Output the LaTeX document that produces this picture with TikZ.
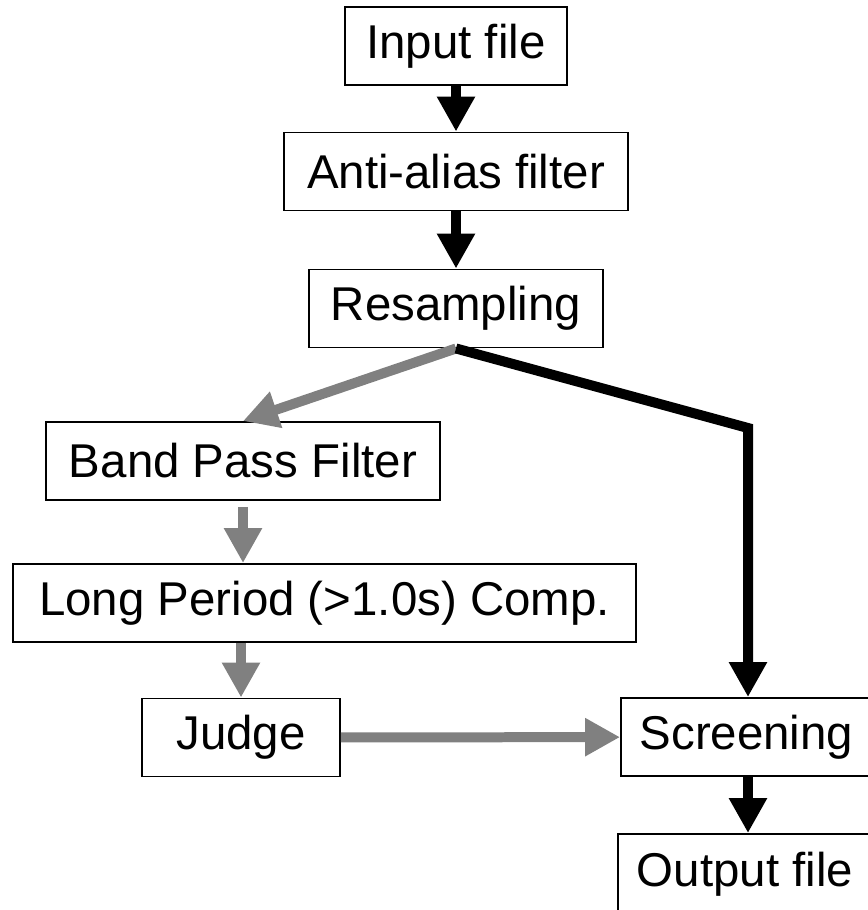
\documentclass[tikz,border=0pt]{standalone}
\usepackage{fontspec}
\setmainfont{Liberation Sans}
\usetikzlibrary{arrows.meta}
\definecolor{flowgray}{RGB}{128,128,128}

\begin{document}
\begin{tikzpicture}[x=0.02cm, y=-0.02cm,
    box/.style={draw, line width=1.1pt, inner sep=0pt, minimum height=1.56cm,
      font=\fontsize{27}{30}\selectfont},
    flow/.style={line width=0.2cm, line join=miter,
      -{Triangle[width=0.72cm,length=0.7cm]}}]
        \clip (0,0) rectangle (868,910);
        % boxes
        \node[box, minimum width=4.44cm] (in) at (456,46) {Input file};
        \node[box, minimum width=6.88cm] (aa) at (456,171.5) {Anti-alias filter};
        \node[box, minimum width=5.88cm] (rs) at (456,308.5) {Resampling};
        \node[box, minimum width=7.88cm] (bpf) at (243,461) {Band Pass Filter};
        \node[box, minimum width=12.46cm] (lp) at (324.5,603) {Long Period (>1.0s) Comp.};
        \node[box, minimum width=3.96cm] (jd) at (241,737.5) {Judge};
        \node[box, minimum width=5.02cm] (sc) at (746.5,737) {Screening};
        \node[box, minimum width=5.08cm, minimum height=1.6cm] (out) at (745,874) {Output file};
        \coordinate (bend) at (748,428);
        % arrows
        \draw[flow] (in) -- (aa);
        \draw[flow] (aa) -- (rs);
        \draw[flow, flowgray] (rs.south) -- (bpf.north);
        \draw[flow] (rs.south) -- (bend) -- (bend |- sc.north);
        \draw[flow, flowgray, shorten <=0.12cm] (bpf.south) -- (bpf.south |- lp.north);
        \draw[flow, flowgray] (jd.north |- lp.south) -- (jd.north);
        \draw[flow, flowgray] (jd) -- (sc);
        \draw[flow] (bend |- sc.south) -- (bend |- out.north);
      \end{tikzpicture}
\end{document}
